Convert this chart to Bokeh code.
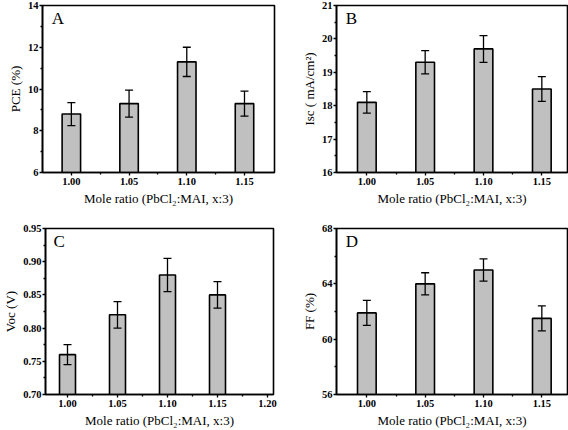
from bokeh.plotting import figure
from bokeh.layouts import column, row
from bokeh.models import (ColumnDataSource, Whisker, TeeHead, FixedTicker,
                          PrintfTickFormatter, Label)
from bokeh.embed import file_html
from bokeh.resources import INLINE

# ---- data ----
ratios = [1.00, 1.05, 1.10, 1.15]
pce = [8.8, 9.3, 11.3, 9.3]
pce_err = [0.55, 0.65, 0.7, 0.6]
isc = [18.1, 19.3, 19.7, 18.5]
isc_err = [0.32, 0.35, 0.4, 0.37]
voc = [0.76, 0.82, 0.88, 0.85]
voc_err = [0.015, 0.02, 0.025, 0.02]
ff = [61.9, 64.0, 65.0, 61.5]
ff_err = [0.9, 0.8, 0.8, 0.9]

x_label = "Mole ratio (PbCl\u2082:MAI, x:3)"
FONT = "Liberation Serif"
BAR_W = 0.016
FILL = "#c0c0c0"


def panel(vals, errs, letter, ylabel, yrange, yticks, yminor, yfmt,
          xrange, xticks, xminor, width, height, borders):
    bl, br, bt, bb = borders
    p = figure(width=width, height=height, x_range=xrange, y_range=yrange,
               output_backend="svg", toolbar_location=None,
               min_border_left=bl, min_border_right=br,
               min_border_top=bt, min_border_bottom=bb)
    lo = [v - e for v, e in zip(vals, errs)]
    hi = [v + e for v, e in zip(vals, errs)]
    src = ColumnDataSource(dict(x=ratios, top=vals, lo=lo, hi=hi))
    p.vbar(x="x", top="top", bottom=yrange[0], width=BAR_W, source=src,
           fill_color=FILL, line_color="black", line_width=1.6)
    w = Whisker(base="x", lower="lo", upper="hi", source=src,
                level="overlay",
                line_color="black", line_width=1.3,
                upper_head=TeeHead(size=8, line_color="black", line_width=1.3),
                lower_head=TeeHead(size=8, line_color="black", line_width=1.3))
    p.add_layout(w)

    p.xgrid.visible = False
    p.ygrid.visible = False
    p.outline_line_color = "black"
    p.outline_line_width = 1.6
    p.background_fill_color = "white"
    p.border_fill_color = "white"

    p.xaxis.ticker = FixedTicker(ticks=xticks, minor_ticks=xminor)
    p.yaxis.ticker = FixedTicker(ticks=yticks, minor_ticks=yminor)
    p.xaxis.formatter = PrintfTickFormatter(format="%.2f")
    p.yaxis.formatter = PrintfTickFormatter(format=yfmt)

    for ax in (p.xaxis, p.yaxis):
        ax.axis_line_width = 1.6
        ax.axis_line_color = "black"
        ax.major_tick_out = 3
        ax.major_tick_in = 0
        ax.minor_tick_out = 2
        ax.minor_tick_in = 0
        ax.major_tick_line_width = 1.3
        ax.minor_tick_line_width = 1.3
        ax.major_label_text_font = FONT
        ax.major_label_text_font_size = "10.5px"
        ax.major_label_text_font_style = "bold"
        ax.major_label_text_color = "black"
        ax.axis_label_text_font = FONT
        ax.axis_label_text_font_size = "13px"
        ax.axis_label_text_font_style = "normal"
        ax.axis_label_text_color = "black"
        ax.major_label_standoff = 2
        ax.axis_label_standoff = 3
    p.yaxis.major_label_standoff = 1
    p.yaxis.axis_label_standoff = 2
    p.xaxis.axis_label = x_label
    p.yaxis.axis_label = ylabel

    ly = yrange[1] - (yrange[1] - yrange[0]) * 0.08
    p.add_layout(Label(x=xrange[0] + 0.008, y=ly, text=letter,
                       text_font=FONT, text_font_size="17px",
                       text_baseline="middle", text_color="black"))
    return p


xt = [1.00, 1.05, 1.10, 1.15]
xm = [1.025, 1.075, 1.125]

pA = panel(pce, pce_err, "A", "PCE (%)", (6, 14), [6, 8, 10, 12, 14],
           [7, 9, 11, 13], "%d", (0.975, 1.176), xt, xm,
           282, 224, (42, 8, 5, 52))
pB = panel(isc, isc_err, "B", "Isc ( mA/cm\u00b2)", (16, 21),
           [16, 17, 18, 19, 20, 21], [16.5, 17.5, 18.5, 19.5, 20.5], "%d",
           (0.974, 1.172), xt, xm, 286, 224, (54, 1, 5, 51))
pC = panel(voc, voc_err, "C", "Voc (V)", (0.70, 0.95),
           [0.70, 0.75, 0.80, 0.85, 0.90, 0.95],
           [0.725, 0.775, 0.825, 0.875, 0.925], "%.2f",
           (0.978, 1.206), xt + [1.20], xm + [1.175],
           282, 206, (41, 9, 3, 35))
pD = panel(ff, ff_err, "D", "FF (%)", (56, 68), [56, 60, 64, 68],
           [58, 62, 66], "%d", (0.974, 1.172), xt, xm,
           286, 206, (54, 1, 4, 34))

layout = column(row(pA, pB), row(pC, pD))
open("out.html", "w").write(file_html(layout, INLINE))
